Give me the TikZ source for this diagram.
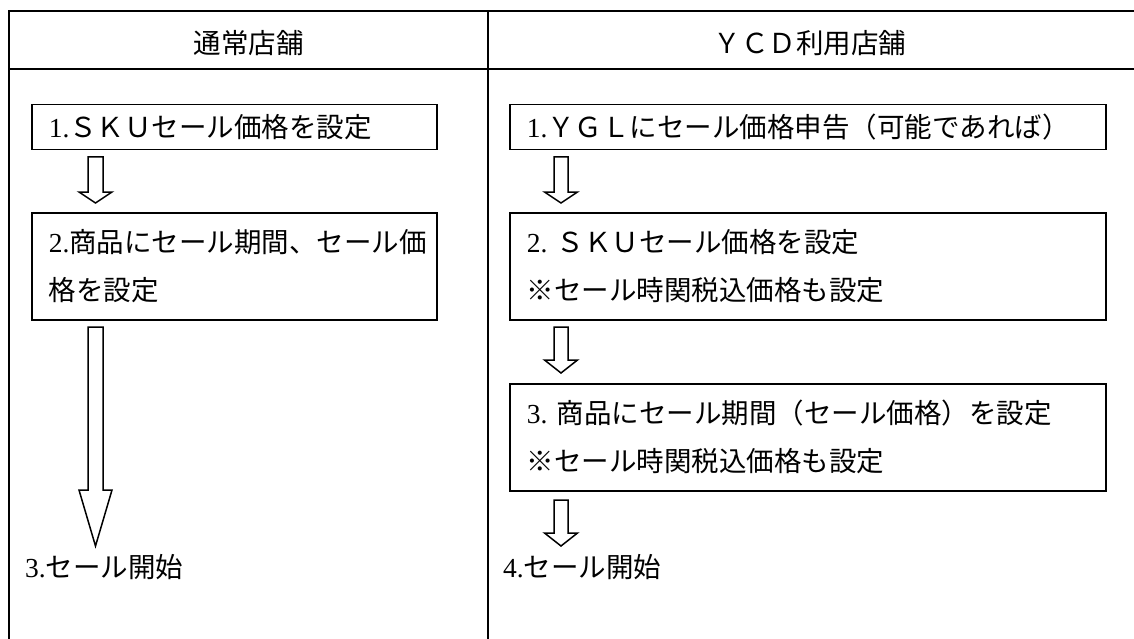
\documentclass[tikz,border=0pt]{standalone}
\usepackage{fontspec}
\setmainfont{Liberation Serif}
\newfontfamily\jpfont{Noto Sans CJK JP}
\usetikzlibrary{calc}

\tikzset{
  frame/.style={line width=1.5pt},
  headtext/.style={inner sep=0pt, font=\jpfont\fontsize{27.5}{33}\selectfont},
  stepbox/.style={draw, line width=1.5pt, anchor=north west, inner xsep=17pt, inner ysep=0pt,
    align=left, font=\jpfont\fontsize{27.5}{48}\selectfont},
  steptext/.style={anchor=west, inner sep=0pt, font=\jpfont\fontsize{27.5}{33}\selectfont},
  hollow/.style={draw, line width=1.5pt, line join=miter},
}

% hollow block arrow: #1 top of shaft, #2 tip, #3 head length, #4 half shaft width
\newcommand{\hollowarrow}[4]{%
  \draw[hollow] let \p1=(#1), \p2=(#2) in
    (\x1-#4pt,\y1) -- (\x1-#4pt,\y2+#3pt) -- (\x1-16.5pt,\y2+#3pt) -- (\x2,\y2)
    -- (\x1+16.5pt,\y2+#3pt) -- (\x1+#4pt,\y2+#3pt) -- (\x1+#4pt,\y1) -- cycle;}

\begin{document}
\begin{tikzpicture}[x=1pt,y=-1pt]
  \useasboundingbox (0,0) rectangle (1134,639);

  % table
  \draw[frame] (1134,11) -- (9,11) -- (9,639);
  \draw[frame] (9,69) -- (1134,69);
  \draw[frame] (488,11) -- (488,639);

  \node[headtext] (hl) at (248.5,43) {通常店舗};
  \node[headtext] (hr) at (810,43) {ＹＣＤ利用店舗};

  % left column
  \node[stepbox, text width=371pt, minimum height=45pt] (l1) at (31,104)
    {\textrm{1.}ＳＫＵセール価格を設定};
  \node[stepbox, text width=371pt, minimum height=107pt] (l2) at (31,212)
    {\textrm{2.}商品にセール期間、セール価\\格を設定};
  \node[steptext] (l3) at (25,567) {\textrm{3.}セール開始};

  \coordinate (a1) at (95.5,157);
  \coordinate (a1t) at (95.5,203);
  \coordinate (a2) at (95.5,327);
  \coordinate (a2t) at (95.5,546);
  \hollowarrow{a1}{a1t}{11}{7.5}
  \hollowarrow{a2}{a2t}{56}{7.5}

  % right column
  \node[stepbox, text width=562pt, minimum height=45pt] (r1) at (509,104)
    {\textrm{1.}ＹＧＬにセール価格申告（可能であれば）};
  \node[stepbox, text width=562pt, minimum height=107pt] (r2) at (509,212)
    {\textrm{2.\ }ＳＫＵセール価格を設定\\※セール時関税込価格も設定};
  \node[stepbox, text width=562pt, minimum height=107pt] (r3) at (509,383)
    {\textrm{3.\ }商品にセール期間（セール価格）を設定\\※セール時関税込価格も設定};
  \node[steptext] (r4) at (503,567) {\textrm{4.}セール開始};

  \coordinate (b1) at (561,157);
  \coordinate (b1t) at (561,203);
  \coordinate (b2) at (561,327);
  \coordinate (b2t) at (561,373);
  \coordinate (b3) at (561,500);
  \coordinate (b3t) at (561,546);
  \hollowarrow{b1}{b1t}{11}{7}
  \hollowarrow{b2}{b2t}{13}{7}
  \hollowarrow{b3}{b3t}{13}{7}
\end{tikzpicture}
\end{document}
